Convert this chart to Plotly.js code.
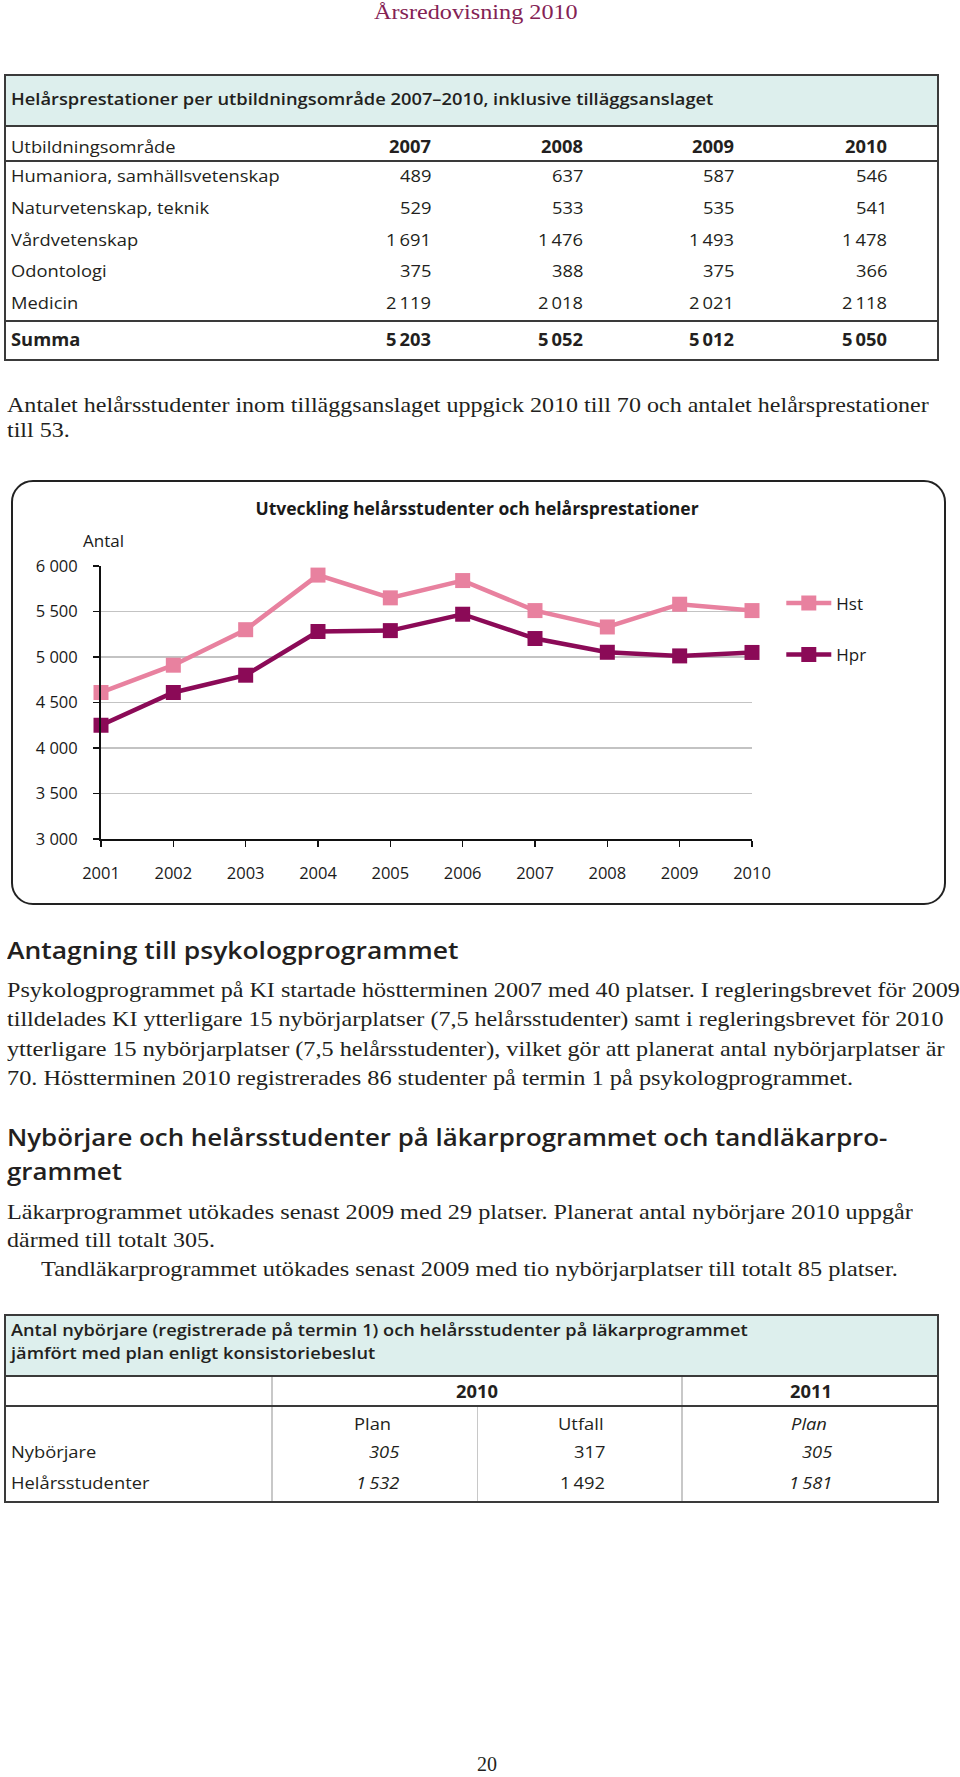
<!DOCTYPE html>
<html><head><meta charset="utf-8">
<script src="https://cdn.plot.ly/plotly-3.0.1.min.js"></script>
<style>
html,body{margin:0;padding:0;background:#fff;}
#page{position:relative;width:960px;height:1777px;overflow:hidden;background:#fff;color:#231f20;}
.t{position:absolute;white-space:nowrap;}
.serif{font-family:'Liberation Serif','DejaVu Serif',serif;}
.sans{font-family:'Open Sans','Lato',sans-serif;}
.bx{position:absolute;box-sizing:border-box;}
</style></head><body><div id="page"></div>
<script>
// ---------------- data ----------------
const years = [2001, 2002, 2003, 2004, 2005, 2006, 2007, 2008, 2009, 2010];
const hst = [4610, 4910, 5300, 5900, 5650, 5840, 5510, 5330, 5580, 5510];
const hpr = [4250, 4610, 4800, 5280, 5290, 5470, 5203, 5052, 5012, 5050];
const seriesNames = ['Hst', 'Hpr'];

const t1Title = 'Helårsprestationer per utbildningsområde 2007–2010, inklusive tilläggsanslaget';
const t1Head = 'Utbildningsområde';
const t1Years = ['2007', '2008', '2009', '2010'];
const t1Areas = ['Humaniora, samhällsvetenskap', 'Naturvetenskap, teknik', 'Vårdvetenskap', 'Odontologi', 'Medicin'];
const t1Humaniora = [489, 637, 587, 546];
const t1Natur = [529, 533, 535, 541];
const t1Vard = [1691, 1476, 1493, 1478];
const t1Odont = [375, 388, 375, 366];
const t1Medicin = [2119, 2018, 2021, 2118];
const t1Sum = [5203, 5052, 5012, 5050];

const t2TitleLines = ['Antal nybörjare (registrerade på termin 1) och helårsstudenter på läkarprogrammet', 'jämfört med plan enligt konsistoriebeslut'];
const t2Years = ['2010', '2011'];
const t2Cols = ['Plan', 'Utfall', 'Plan'];
const t2Rows = ['Nybörjare', 'Helårsstudenter'];
const t2Nyborjare = [305, 317, 305];
const t2Helars = [1532, 1492, 1581];

// ---------------- helpers ----------------
const page = document.getElementById('page');
const fmt = n => String(n).replace(/\B(?=(\d{3})+(?!\d))/g, '\u2009');
const groupK = {};
const items = [];
function T(txt, x, cy, o) {
  o = o || {};
  const s = document.createElement('div');
  s.className = 't ' + (o.cls || 'sans');
  s.textContent = txt;
  const fs = o.fs || 17;
  s.style.fontSize = fs + 'px';
  s.style.lineHeight = (fs * 1.3) + 'px';
  s.style.top = (cy - fs * 0.68) + 'px';
  if (o.fw) s.style.fontWeight = o.fw;
  if (o.it) s.style.fontStyle = 'italic';
  if (o.col) s.style.color = o.col;
  page.appendChild(s);
  items.push({el: s, x: x, al: o.al || 'l', w: o.w, g: o.g});
  return s;
}
function B(l, t, w, h, css) {
  const d = document.createElement('div');
  d.className = 'bx';
  d.style.left = l + 'px'; d.style.top = t + 'px'; d.style.width = w + 'px'; d.style.height = h + 'px';
  Object.assign(d.style, css || {});
  page.appendChild(d);
  return d;
}
function fit() {
  items.filter(it => it.w).forEach(it => {
    const k = it.w / it.el.offsetWidth;
    if (it.g && groupK[it.g] === undefined) groupK[it.g] = k;
    it.k = k;
  });
  items.forEach(it => {
    const nat = it.el.offsetWidth;
    const k = it.w ? it.k : (it.g && groupK[it.g] !== undefined ? groupK[it.g] : 1);
    it.el.style.transformOrigin = '0 50%';
    it.el.style.transform = 'scaleX(' + k + ')';
    let left = it.x;
    if (it.al === 'r') left = it.x - nat * k;
    else if (it.al === 'c') left = it.x - nat * k / 2;
    it.el.style.left = left + 'px';
  });
}

// ---------------- page header ----------------
T('Årsredovisning 2010', 476, 13, {cls: 'serif', fs: 21, col: '#842254', al: 'c', w: 204});

// ---------------- table 1 ----------------
const line = '#3a3a3a';
B(3.5, 74, 935, 52, {background: '#ddefed'});
B(3.5, 74, 935, 287, {border: '2px solid ' + line});
B(3.5, 125, 935, 2, {background: line});
B(3.5, 159.5, 935, 2, {background: line});
B(3.5, 320, 935, 2, {background: line});
T(t1Title, 11, 100, {fw: 600, w: 702, g: 'tt'});
T(t1Head, 11, 147.5, {w: 165, g: 'tb'});
const t1X = [431, 583, 734, 887];
t1Years.forEach((y, i) => T(y, t1X[i], 147.5, {al: 'r', fw: 700, g: 'tb'}));
const t1Vals = [t1Humaniora, t1Natur, t1Vard, t1Odont, t1Medicin];
const t1Y = [177, 208.5, 240.5, 272, 303.5];
t1Areas.forEach((a, r) => {
  T(a, 11, t1Y[r], {g: 'tb'});
  t1Vals[r].forEach((v, i) => T(fmt(v), t1X[i], t1Y[r], {al: 'r', g: 'tb'}));
});
T('Summa', 11, 340.5, {fw: 700, g: 'tb'});
t1Sum.forEach((v, i) => T(fmt(v), t1X[i], 340.5, {al: 'r', fw: 700, g: 'tb'}));

// ---------------- paragraph ----------------
T('Antalet helårsstudenter inom tilläggsanslaget uppgick 2010 till 70 och antalet helårsprestationer', 7, 406, {cls: 'serif', fs: 21, w: 922, g: 'body'});
T('till 53.', 7, 431.5, {cls: 'serif', fs: 21, g: 'body'});

// ---------------- chart ----------------
B(11, 480, 935, 425, {border: '2px solid #222', borderRadius: '22px'});
const chartDiv = document.createElement('div');
chartDiv.style.position = 'absolute';
chartDiv.style.left = '11px'; chartDiv.style.top = '480px';
chartDiv.style.width = '935px'; chartDiv.style.height = '425px';
page.appendChild(chartDiv);

const colors = ['#e8819f', '#8b0a57'];
const traces = [hst, hpr].map((ys, i) => ({
  type: 'scatter', mode: 'lines+markers', x: years, y: ys, name: seriesNames[i],
  legendgroup: 'g' + i, cliponaxis: false,
  line: {color: colors[i], width: 4.5},
  marker: {symbol: 'square', size: 15, color: colors[i]}
}));
const axisCommon = {showline: true, linecolor: '#111', linewidth: 2, ticks: 'outside', ticklen: 6,
  tickwidth: 1.5, tickcolor: '#111', zeroline: false, fixedrange: true, ticklabelstandoff: 12};
const layout = {
  width: 935, height: 425,
  margin: {l: 90, r: 194, t: 86, b: 66},
  paper_bgcolor: 'rgba(0,0,0,0)', plot_bgcolor: 'rgba(0,0,0,0)',
  separators: ', ',
  font: {family: 'Open Sans, sans-serif', size: 16.5, color: '#1a1a1a'},
  title: {text: '<b>Utveckling helårsstudenter och helårsprestationer</b>', font: {size: 17.5, color: '#1a1a1a'},
    x: 466 / 935, xanchor: 'center', xref: 'container', y: 1 - 29 / 425, yanchor: 'middle', yref: 'container'},
  xaxis: Object.assign({range: [2001, 2010], tickvals: years, ticktext: years.map(String), showgrid: false}, axisCommon),
  yaxis: Object.assign({range: [3000, 6000], tick0: 3000, dtick: 500, tickformat: ',d', showgrid: true,
    gridcolor: '#c3c3c3', gridwidth: 1.5}, axisCommon),
  showlegend: true,
  legend: {x: 1.045, xanchor: 'left', y: 0.929, yanchor: 'top', font: {size: 17}, tracegroupgap: 26.5,
    traceorder: 'grouped', itemwidth: 45, bgcolor: 'rgba(0,0,0,0)'},
  annotations: [{text: 'Antal', xref: 'paper', yref: 'paper', x: -0.0307, y: 1.094, xanchor: 'left',
    yanchor: 'middle', showarrow: false, font: {size: 17}}]
};
Plotly.newPlot(chartDiv, traces, layout, {staticPlot: true, displayModeBar: false});

// ---------------- section 1 ----------------
T('Antagning till psykologprogrammet', 7, 950, {fs: 24, fw: 600, w: 452, g: 'h'});
const p1 = [
  'Psykologprogrammet på KI startade höstterminen 2007 med 40 platser. I regleringsbrevet för 2009',
  'tilldelades KI ytterligare 15 nybörjarplatser (7,5 helårsstudenter) samt i regleringsbrevet för 2010',
  'ytterligare 15 nybörjarplatser (7,5 helårsstudenter), vilket gör att planerat antal nybörjarplatser är',
  '70. Höstterminen 2010 registrerades 86 studenter på termin 1 på psykologprogrammet.'];
const p1W = [953, 936, 937, 846];
const p1Y = [991, 1020.5, 1050, 1079];
p1.forEach((s, i) => T(s, 7, p1Y[i], {cls: 'serif', fs: 21, w: p1W[i]}));

// ---------------- section 2 ----------------
T('Nybörjare och helårsstudenter på läkarprogrammet och tandläkarpro-', 7, 1137, {fs: 24, fw: 600, w: 880, g: 'h2'});
T('grammet', 7, 1171, {fs: 24, fw: 600, g: 'h2'});
T('Läkarprogrammet utökades senast 2009 med 29 platser. Planerat antal nybörjare 2010 uppgår', 7, 1213, {cls: 'serif', fs: 21, w: 906});
T('därmed till totalt 305.', 7, 1241.5, {cls: 'serif', fs: 21, w: 208});
T('Tandläkarprogrammet utökades senast 2009 med tio nybörjarplatser till totalt 85 platser.', 41, 1270.5, {cls: 'serif', fs: 21, w: 857});

// ---------------- table 2 ----------------
B(3.5, 1314, 935, 62, {background: '#ddefed'});
B(271, 1376, 1.5, 126, {background: '#c8c8c8'});
B(681, 1376, 1.5, 126, {background: '#c8c8c8'});
B(476.5, 1406, 1.5, 96, {background: '#c8c8c8'});
B(3.5, 1314, 935, 189, {border: '2px solid ' + line});
B(3.5, 1375, 935, 2, {background: line});
B(3.5, 1405, 935, 2, {background: line});
T(t2TitleLines[0], 11, 1331, {fw: 600, w: 737, g: 'tt2'});
T(t2TitleLines[1], 11, 1354, {fw: 600, g: 'tt2'});
T(t2Years[0], 476.7, 1392.5, {al: 'c', fw: 700, g: 'tb'});
T(t2Years[1], 811, 1392.5, {al: 'c', fw: 700, g: 'tb'});
const t2HX = [391, 603, 827];
const t2VX = [399, 605, 832];
const t2It = [true, false, true];
t2Cols.forEach((c, i) => T(c, t2HX[i], 1425, {al: 'r', it: i === 2, g: 'tb'}));
[t2Nyborjare, t2Helars].forEach((vals, r) => {
  const cy = [1452.5, 1484][r];
  T(t2Rows[r], 11, cy, {g: 'tb'});
  vals.forEach((v, i) => T(fmt(v), t2VX[i], cy, {al: 'r', it: t2It[i], g: 'tb'}));
});

// ---------------- footer ----------------
T('20', 487, 1765, {cls: 'serif', fs: 20, al: 'c'});

fit();
if (document.fonts && document.fonts.ready) document.fonts.ready.then(fit);
</script>
</body></html>
